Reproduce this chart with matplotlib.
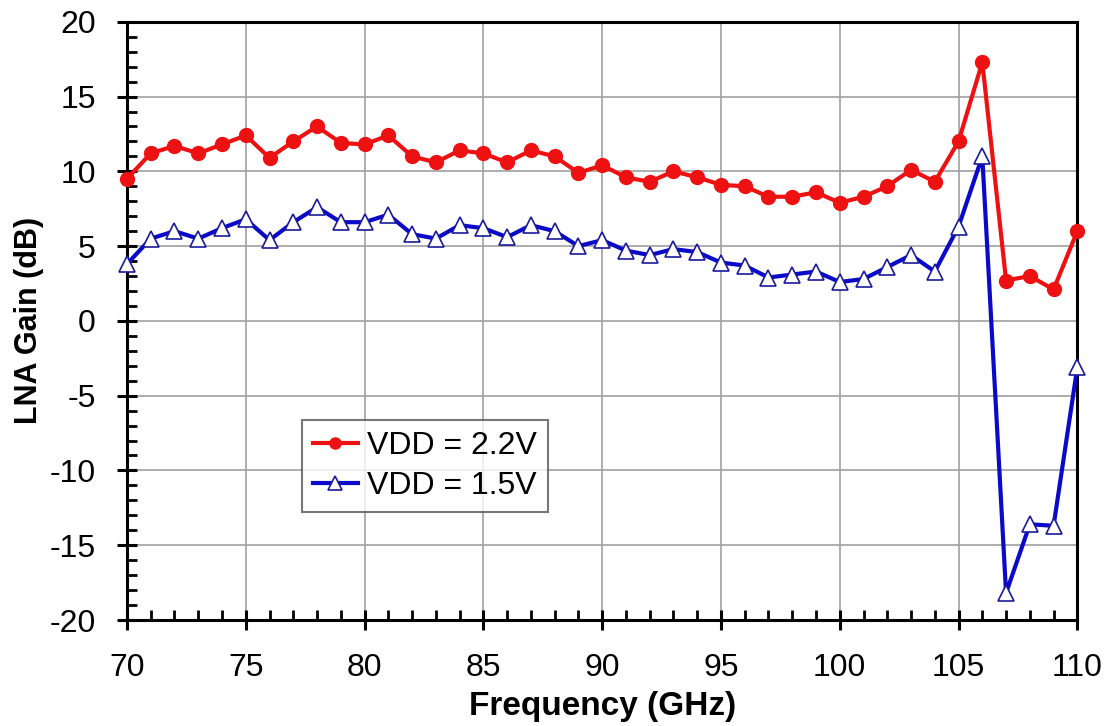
"""
Plot LNA gain versus frequency for two supply voltages.
"""

import numpy as np
import matplotlib.pyplot as plt
from matplotlib.ticker import MultipleLocator


# Data

freq_ghz = np.arange(70, 111)

gain_vdd22 = [9.5, 11.2, 11.7, 11.2, 11.8, 12.4, 10.9, 12.0, 13.0, 11.9,
              11.8, 12.4, 11.0, 10.6, 11.4, 11.2, 10.6, 11.4, 11.0, 9.9,
              10.4, 9.6, 9.3, 10.0, 9.6, 9.1, 9.0, 8.3, 8.3, 8.6,
              7.9, 8.3, 9.0, 10.1, 9.3, 12.0, 17.3, 2.7, 3.0, 2.1,
              6.0]

gain_vdd15 = [3.8, 5.5, 6.0, 5.5, 6.2, 6.8, 5.4, 6.6, 7.6, 6.6,
              6.6, 7.1, 5.8, 5.5, 6.4, 6.2, 5.6, 6.4, 6.0, 5.0,
              5.4, 4.7, 4.4, 4.8, 4.6, 3.9, 3.7, 2.9, 3.1, 3.3,
              2.6, 2.8, 3.6, 4.4, 3.3, 6.3, 11.0, -18.2, -13.6, -13.7,
              -3.1]

labels = ['VDD = 2.2V', 'VDD = 1.5V']


# Plot

plt.rcParams['font.family'] = ['Liberation Sans', 'DejaVu Sans']
plt.rcParams['axes.unicode_minus'] = False

fig = plt.figure(figsize=[11.07, 7.26], dpi=100)
ax = fig.add_axes([0.1147, 0.146, 0.8585, 0.824])

ax.plot(freq_ghz, gain_vdd22, color='#ee1111', lw=3, marker='o', ms=10,
        mfc='#ee1111', mec='#ee1111', label=labels[0], zorder=3, clip_on=False)
ax.plot(freq_ghz, gain_vdd15, color='#0a0ac8', lw=3, marker='^', ms=12,
        mfc='white', mec='#1a1a9a', mew=1.2, label=labels[1], zorder=3,
        clip_on=False)

ax.set_xlim(70, 110)
ax.set_ylim(-20, 20)
ax.xaxis.set_major_locator(MultipleLocator(5))
ax.xaxis.set_minor_locator(MultipleLocator(1))
ax.yaxis.set_major_locator(MultipleLocator(5))
ax.yaxis.set_minor_locator(MultipleLocator(1))

ax.grid(which='major', color='#a0a0a0', lw=1.2)
ax.set_axisbelow(True)

for spine in ax.spines.values():
    spine.set_linewidth(2.2)
    spine.set_color('black')

ax.tick_params(which='major', direction='inout', length=15, width=2.2,
               labelsize=23, right=False, top=False)
ax.tick_params(axis='y', which='major', pad=15)
ax.tick_params(axis='x', which='major', pad=16)
ax.tick_params(which='minor', direction='in', length=7, width=2,
               right=False, top=False)

ax.set_xlabel('Frequency (GHz)', fontsize=24, fontweight='bold', labelpad=6)
ax.set_ylabel('LNA Gain (dB)', fontsize=22, fontweight='bold', labelpad=4)

leg = ax.legend(loc='upper left', bbox_to_anchor=(0.184, 0.334), fontsize=23,
                frameon=True, fancybox=False, handlelength=1.4,
                handletextpad=0.3, borderpad=0.35, labelspacing=0.3,
                borderaxespad=0, markerscale=0.8)
leg.get_frame().set_edgecolor('#555555')
leg.get_frame().set_linewidth(1.5)

plt.savefig('out.png', dpi=100)
